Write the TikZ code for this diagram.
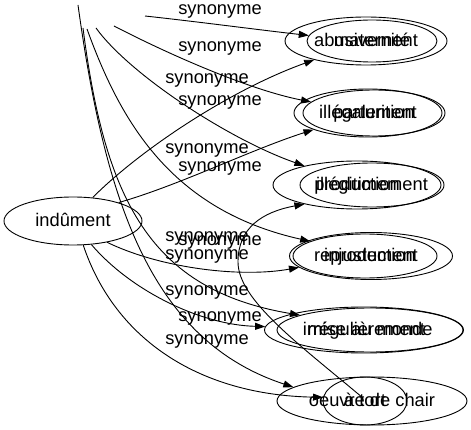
\documentclass[tikz,border=0pt]{standalone}
\usepackage{fontspec}
\setmainfont{Liberation Sans}
\usetikzlibrary{shapes.geometric,arrows.meta}

\tikzset{
  mot/.style={draw, ellipse, inner sep=0pt, inner xsep=-10pt, text height=13pt, text depth=2pt, line width=0.9pt},
  syn/.style={inner sep=0pt, text height=10pt, text depth=4pt},
  lien/.style={-{Triangle[length=10pt,width=7pt]}, line width=0.9pt},
}

\begin{document}
\begin{tikzpicture}[x=1pt, y=-1pt, font=\fontsize{18.3}{22}\selectfont]
    \useasboundingbox (0,0) rectangle (471,430);

    % les mots
    \node [mot, minimum width=138, minimum height=48] (ind) at (73, 221) {indûment};
    \node [mot, minimum width=162, minimum height=48] (abu) at (366, 41) {abusivement};
    \node [mot, minimum width=130, minimum height=42] (mat) at (372, 41) {maternité};
    \node [mot, minimum width=148, minimum height=48] (ill) at (368, 113) {illégalement};
    \node [mot, minimum width=142, minimum height=46] (par) at (374, 113) {parturition};
    \node [mot, minimum width=168, minimum height=48] (prod) at (357, 185) {production};
    \node [mot, minimum width=144, minimum height=44] (ilt) at (372, 185) {illégitimement};
    \node [mot, minimum width=163, minimum height=47] (inj) at (371, 256) {injustement};
    \node [mot, minimum width=144, minimum height=44] (rep) at (365, 256) {reproduction};
    \node [mot, minimum width=199, minimum height=46] (irr) at (364, 330) {irrégulièrement};
    \node [mot, minimum width=186, minimum height=44] (mis) at (370, 330) {mise au monde};
    \node [mot, minimum width=190, minimum height=48] (oeu) at (372, 401) {oeuvre de chair};
    \node [mot, minimum width=84, minimum height=48] (ato) at (365, 401) {à tort};

    % bouts libres
    \coordinate (t1) at (145, 16);
    \coordinate (t2) at (114, 26);
    \coordinate (t3) at (96, 28);
    \coordinate (t4) at (87, 29);
    \coordinate (t5) at (83, 28);
    \coordinate (t6) at (78, 5);
    \coordinate (hk) at (363, 398);

    % les liens
    \draw [lien] (t1) .. controls (200, 22) and (260, 30) .. (mat.175);
    \draw [lien] (t2) .. controls (170, 55) and (250, 90) .. (par.170);
    \draw [lien] (t3) .. controls (130, 75) and (230, 140) .. (prod.160);
    \draw [lien] (t4) .. controls (120, 120) and (170, 210) .. (rep.165);
    \draw [lien] (t5) .. controls (105, 200) and (150, 290) .. (mis.168);
    \draw [lien] (t6) .. controls (105, 200) and (150, 340) .. (oeu.170);
    \draw [lien] (hk) .. controls (300, 345) and (238, 300) .. (238, 262) .. controls (238, 228) and (262, 212) .. (prod.200);

    \draw [lien] (ind.50) .. controls (140, 150) and (230, 90) .. (abu.200);
    \draw [lien] (ind.22) .. controls (180, 185) and (250, 150) .. (ill.197);
    \draw [lien] (ind.328) .. controls (160, 268) and (240, 278) .. (inj.189);
    \draw [lien] (ind.308) .. controls (130, 290) and (200, 325) .. (irr.178);
    \draw [lien] (ind.293) .. controls (115, 340) and (200, 395) .. (ato.175);

    % les étiquettes
    \node [syn] (la) at (220, 12) {synonyme};
    \node [syn] (lb) at (220, 49) {synonyme};
    \node [syn] (lc) at (220, 103) {synonyme};
    \node [syn] (ld) at (220, 169) {synonyme};
    \node [syn] (le) at (220, 243) {synonyme};
    \node [syn] (lf) at (220, 318) {synonyme};
    \node [syn] (l1) at (207, 81) {synonyme};
    \node [syn] (l2) at (207, 151) {synonyme};
    \node [syn] (lh) at (207, 239) {synonyme};
    \node [syn] (l4) at (207, 257) {synonyme};
    \node [syn] (l5) at (207, 292) {synonyme};
    \node [syn] (l6) at (207, 341) {synonyme};
\end{tikzpicture}
\end{document}
